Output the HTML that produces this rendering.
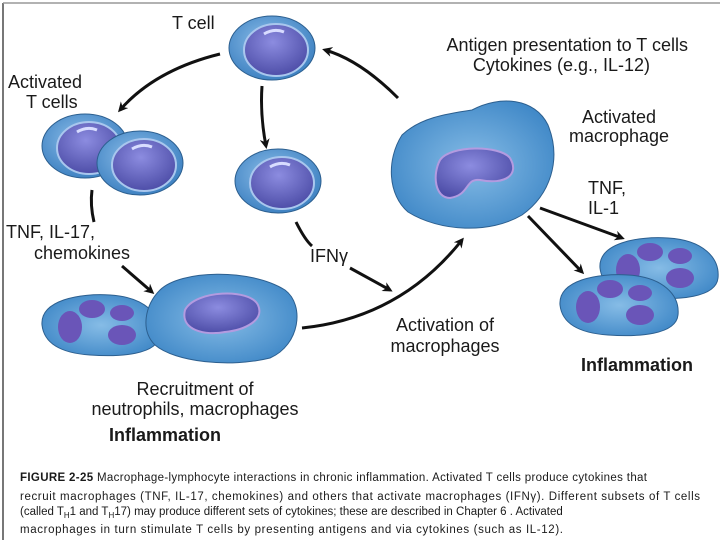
<!DOCTYPE html>
<html><head><meta charset="utf-8"><style>
body{margin:0;background:#fff;width:720px;height:540px;overflow:hidden}
svg{display:block}
text{font-family:"Liberation Sans",sans-serif;fill:#1a1a1a}
</style></head><body>
<svg width="720" height="540" viewBox="0 0 720 540">
<defs>
<radialGradient id="lo" cx="45%" cy="40%" r="60%"><stop offset="0" stop-color="#8fc0ea"/><stop offset="1" stop-color="#3f82c2"/></radialGradient>
<radialGradient id="nu" cx="45%" cy="35%" r="65%"><stop offset="0" stop-color="#8c8ce0"/><stop offset="1" stop-color="#4e4ea8"/></radialGradient>
<radialGradient id="ma" cx="50%" cy="50%" r="60%"><stop offset="0" stop-color="#86bce6"/><stop offset="1" stop-color="#3d86c6"/></radialGradient>
<marker id="ah" markerWidth="10" markerHeight="10" refX="7" refY="5" orient="auto" markerUnits="userSpaceOnUse"><path d="M0,0 L10,5 L0,10 L3,5z" fill="#111"/></marker>
<g id="lym"><ellipse rx="43" ry="32" fill="url(#lo)" stroke="#2c5f8f" stroke-width="1"/><ellipse cx="4" cy="2" rx="32" ry="26" fill="url(#nu)" stroke="#a9c7ee" stroke-width="2"/><path d="M-8,-14 Q2,-20 12,-16" stroke="#d8dcff" stroke-width="3" fill="none"/></g>
<g id="neu"><path d="M-58,0 C-60,-25 -20,-32 10,-30 C45,-28 62,-10 60,10 C58,30 20,32 -10,30 C-40,28 -56,18 -58,0z" fill="url(#ma)" stroke="#2c5f8f"/>
<ellipse cx="-30" cy="2" rx="12" ry="16" fill="#6a55b8"/><ellipse cx="-8" cy="-16" rx="13" ry="9" fill="#6a55b8"/><ellipse cx="22" cy="-12" rx="12" ry="8" fill="#6a55b8"/><ellipse cx="22" cy="10" rx="14" ry="10" fill="#6a55b8"/></g>
</defs>
<line x1="3" y1="3" x2="3" y2="540" stroke="#777" stroke-width="2"/>
<line x1="3" y1="3" x2="720" y2="3" stroke="#999" stroke-width="1.5"/>

<use href="#lym" x="272" y="48"/>
<use href="#lym" x="85" y="146"/>
<use href="#lym" x="140" y="163"/>
<use href="#lym" x="278" y="181"/>

<path d="M472,110 C500,95 535,98 548,125 C562,160 550,195 522,215 C490,234 440,232 408,212 C388,195 386,160 402,135 C420,118 445,114 472,110z" fill="url(#ma)" stroke="#2c5f8f"/>
<path d="M440,160 C450,145 500,145 510,158 C520,175 505,185 480,180 C465,178 470,195 450,198 C435,198 432,175 440,160z" fill="url(#nu)" stroke="#b39be0" stroke-width="2"/>

<use href="#neu" x="658" y="268"/>
<use href="#neu" x="618" y="305"/>
<use href="#neu" x="100" y="325"/>
<path d="M160,290 C180,270 250,268 285,290 C305,305 300,345 270,358 C230,368 175,362 155,345 C140,330 145,305 160,290z" fill="url(#ma)" stroke="#2c5f8f"/>
<path d="M185,310 C195,290 250,288 258,305 C265,320 245,330 225,332 C205,336 180,330 185,310z" fill="url(#nu)" stroke="#b39be0" stroke-width="2"/>

<g stroke="#111" stroke-width="3" fill="none" marker-end="url(#ah)">
<path d="M220,54 Q155,70 120,110"/>
<path d="M262,86 Q260,115 266,146"/>
<path d="M398,98 Q360,60 325,50"/>
<path d="M92,190 Q90,205 94,222" marker-end="none"/>
<path d="M122,266 L152,292"/>
<path d="M296,222 Q305,240 312,246" marker-end="none"/>
<path d="M350,268 L390,290"/>
<path d="M302,328 Q400,318 462,240"/>
<path d="M540,208 L622,238"/>
<path d="M528,216 L582,272"/>
</g>

<g font-size="18">
<text x="172" y="29">T cell</text>
<text x="8" y="88">Activated</text><text x="26" y="108">T cells</text>
<text x="688" y="51" text-anchor="end">Antigen presentation to T cells</text>
<text x="650" y="71" text-anchor="end">Cytokines (e.g., IL-12)</text>
<text x="619" y="123" text-anchor="middle">Activated</text><text x="619" y="142" text-anchor="middle">macrophage</text>
<text x="588" y="194">TNF,</text><text x="588" y="214">IL-1</text>
<text x="6" y="238">TNF, IL-17,</text><text x="34" y="259">chemokines</text>
<text x="310" y="262">IFNγ</text>
<text x="445" y="331" text-anchor="middle">Activation of</text><text x="445" y="352" text-anchor="middle">macrophages</text>
<text x="195" y="395" text-anchor="middle">Recruitment of</text><text x="195" y="415" text-anchor="middle">neutrophils, macrophages</text>
<text x="165" y="441" text-anchor="middle" font-weight="bold">Inflammation</text>
<text x="637" y="371" text-anchor="middle" font-weight="bold">Inflammation</text>
</g>
<g font-size="11.5" style="fill:#333">
<text x="20" y="481" textLength="627" lengthAdjust="spacing"><tspan font-weight="bold">FIGURE 2-25</tspan>  Macrophage-lymphocyte interactions in chronic inflammation. Activated T cells produce cytokines that</text>
<text x="20" y="500" textLength="680" lengthAdjust="spacing">recruit macrophages (TNF, IL-17, chemokines) and others that activate macrophages (IFNγ). Different subsets of T cells</text>
<text x="20" y="515">(called T<tspan font-size="8" dy="3">H</tspan><tspan dy="-3">1 and T</tspan><tspan font-size="8" dy="3">H</tspan><tspan dy="-3">17) may produce different sets of cytokines; these are described in Chapter 6 . Activated</tspan></text>
<text x="20" y="533" textLength="543" lengthAdjust="spacing">macrophages in turn stimulate T cells by presenting antigens and via cytokines (such as IL-12).</text>
</g>
</svg>
</body></html>
